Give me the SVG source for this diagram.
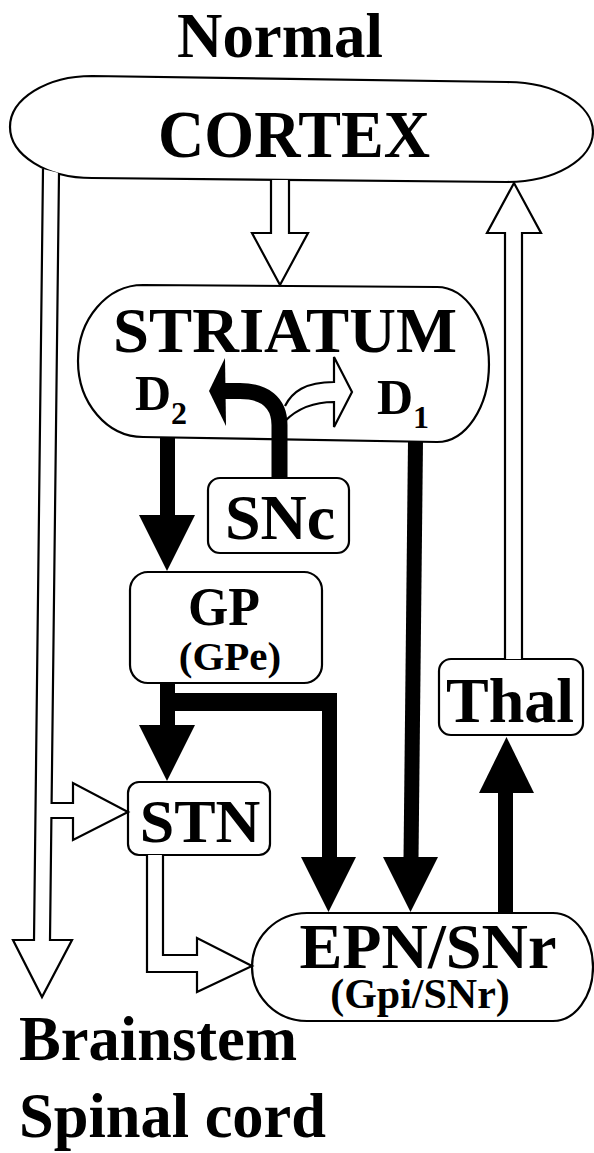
<svg xmlns="http://www.w3.org/2000/svg" width="594" height="1153" viewBox="0 0 594 1153">
<style>
text{font-family:"Liberation Serif","Times New Roman",serif;font-weight:bold;fill:#000}
.node{fill:#fff;stroke:#000;stroke-width:2.2}
.hollow{fill:#fff;stroke:#000;stroke-width:2.2;stroke-linejoin:miter}
.solid{fill:#000;stroke:none}
.mid{text-anchor:middle}
</style>
<rect x="0" y="0" width="594" height="1153" fill="#fff"/>
<g id="title"><text class="mid" x="280" y="57" font-size="64" textLength="206" lengthAdjust="spacingAndGlyphs">Normal</text></g>
<g id="cortex">
<path class="node" d="M92 76 L507 82 A86 50 0 0 1 507 182 L92 178 A82 51 0 0 1 92 76 Z"/>
<text class="mid" x="294" y="157" font-size="68" textLength="272" lengthAdjust="spacingAndGlyphs">CORTEX</text>
</g>
<g id="striatum">
<path class="node" d="M143 285 L437 287 A52 77.5 0 0 1 437 442 L143 437 A65 76 0 0 1 143 285 Z"/>
<text class="mid" x="285" y="352" font-size="64" textLength="344" lengthAdjust="spacingAndGlyphs">STRIATUM</text>
<text x="135" y="410" font-size="50">D<tspan x="171" y="424" font-size="32">2</tspan></text>
<text x="377" y="414" font-size="50">D<tspan x="413" y="428" font-size="32">1</tspan></text>
</g>
<g id="snc">
<rect class="node" x="208" y="478" width="141" height="75" rx="12"/>
<text class="mid" x="280" y="539" font-size="64">SNc</text>
</g>
<g id="gp">
<rect class="node" x="130" y="572" width="192" height="111" rx="18"/>
<text class="mid" x="224" y="625" font-size="55" textLength="72" lengthAdjust="spacingAndGlyphs">GP</text>
<text class="mid" x="230" y="670" font-size="41">(GPe)</text>
</g>
<g id="stn">
<rect class="node" x="128" y="782" width="142" height="73" rx="11"/>
<text class="mid" x="200" y="842" font-size="62">STN</text>
</g>
<g id="thal">
<rect class="node" x="439" y="659" width="144" height="76" rx="12"/>
<text class="mid" x="510" y="722" font-size="64">Thal</text>
</g>
<g id="epn">
<path class="node" d="M307 913 L553 913 A40 54 0 0 1 553 1021 L307 1021 A55 54 0 0 1 307 913 Z"/>
<text class="mid" x="428" y="968" font-size="64" textLength="257" lengthAdjust="spacingAndGlyphs">EPN/SNr</text>
<text class="mid" x="420" y="1008" font-size="42">(Gpi/SNr)</text>
</g>
<g id="outputs">
<text x="19" y="1060" font-size="64" textLength="278" lengthAdjust="spacingAndGlyphs">Brainstem</text>
<text x="19" y="1137" font-size="64" textLength="307" lengthAdjust="spacingAndGlyphs">Spinal cord</text>
</g>
<g id="connectors">
<!-- cortex to brainstem / STN -->
<path class="hollow" d="M43 169 L34 940 L13 940 L42 997 L72 940 L50 940 L51.4 818 L73 818 L73 840 L128 812 L73 783 L73 803 L51.6 803 L59 173"/>
<!-- cortex to striatum -->
<path class="hollow" d="M271 180 L271 233 L252 233 L280 285 L308 233 L289 233 L289 180"/>
<!-- thal to cortex -->
<path class="hollow" d="M505 659 L505 233 L487 233 L514 183 L541 233 L522 233 L522 659"/>
<!-- STN to EPN -->
<path class="hollow" d="M147 855 L147 972 L197 972 L197 992 L252 966 L197 938 L197 955 L163 955 L163 855"/>
<!-- SNc to D1 (hollow) -->
<path class="hollow" d="M285 406 C292 392 305 382 334 382 L334 357 L352 392 L334 427 L334 402 C310 402 296 410 285 421"/>
<!-- SNc to D2 (solid) -->
<path d="M279.5 478 V425 C279.5 402 264 391 240 391 H222" fill="none" stroke="#000" stroke-width="16"/>
<polygon class="solid" points="209,391 225,358 226,426"/>
<!-- striatum D2 to GP -->
<rect class="solid" x="160" y="437" width="15" height="80"/>
<polygon class="solid" points="139,515 195,515 167,571"/>
<!-- GP to STN -->
<rect class="solid" x="160" y="683" width="15" height="44"/>
<polygon class="solid" points="139,725 195,725 167,781"/>
<!-- GP to EPN -->
<polygon class="solid" points="170,693 337,693 337,859 322,859 322,711 170,711"/>
<polygon class="solid" points="301,857 356,857 328.5,912"/>
<!-- striatum D1 to EPN -->
<polygon class="solid" points="408,441 423,441 418.5,859 403.5,859"/>
<polygon class="solid" points="383,857 438,857 410.5,912"/>
<!-- EPN to Thal -->
<rect class="solid" x="498" y="791" width="15" height="122"/>
<polygon class="solid" points="479,793 534,793 506.5,737"/>
</g>
</svg>
